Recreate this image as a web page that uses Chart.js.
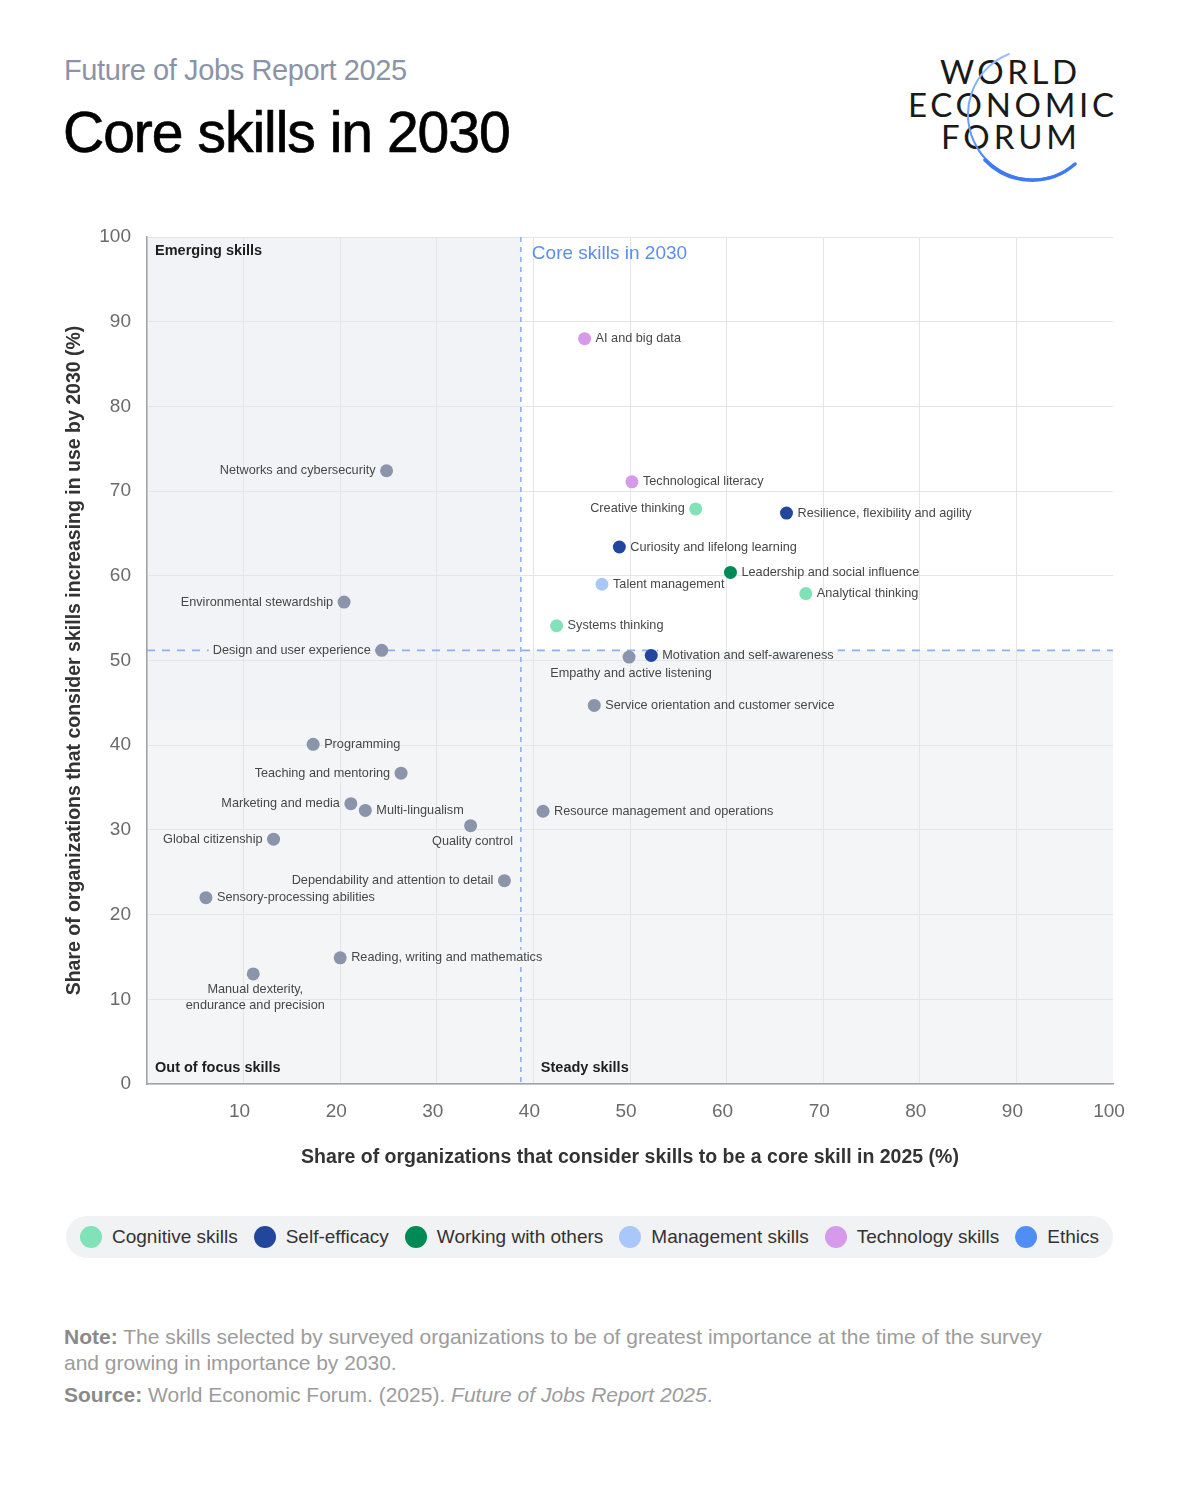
<!DOCTYPE html>
<html>
<head>
<meta charset="utf-8">
<script src="https://cdn.jsdelivr.net/npm/chart.js@4.4.1/dist/chart.umd.min.js"></script>
<style>
  html, body { margin:0; padding:0; background:#fff; }
  body { width:1179px; height:1495px; position:relative; overflow:hidden; font-family:"Liberation Sans", Arial, sans-serif; }
  #sub { position:absolute; left:64px; top:56px; font-size:29px; line-height:29px; letter-spacing:-0.4px; color:#8b93a7; white-space:nowrap; }
  #title { position:absolute; left:63px; top:104px; font-size:57px; line-height:57px; letter-spacing:-1.0px; color:#000; white-space:nowrap; -webkit-text-stroke:0.7px #000; }
  #logo { position:absolute; left:895px; top:40px; width:240px; height:160px; }
  #chartWrap { position:absolute; left:0; top:200px; width:1179px; height:980px; }
  #legend { position:absolute; left:66px; top:1216px; width:1047px; height:42px; border-radius:21px; background:#f1f2f4;
            display:flex; align-items:center; justify-content:center; gap:16px; }
  .li { display:flex; align-items:center; font-size:19px; color:#333; white-space:nowrap; }
  .dot { width:22px; height:22px; border-radius:50%; margin-right:10px; }
  #notes { position:absolute; left:64px; top:1324px; width:1000px; font-size:21px; line-height:26px; color:#9c9c9c; }
  #notes b { color:#8a8a8a; font-weight:bold; }
  #notes .src { margin-top:6px; }
</style>
</head>
<body>
<div id="sub">Future of Jobs Report 2025</div>
<div id="title">Core skills in 2030</div>
<svg id="logo" viewBox="895 40 240 160" xmlns="http://www.w3.org/2000/svg">
  <defs>
    <linearGradient id="arcg" x1="0" y1="0" x2="0" y2="1">
      <stop offset="0" stop-color="#9cc0f7"/>
      <stop offset="0.6" stop-color="#6a9af2"/>
      <stop offset="1" stop-color="#3d78ee"/>
    </linearGradient>
  </defs>
  <g font-family="Lato, 'DejaVu Sans', sans-serif" font-size="33" fill="#1a1a1a">
    <text x="940" y="84" textLength="137" lengthAdjust="spacing">WORLD</text>
    <text x="908" y="117" textLength="206" lengthAdjust="spacing">ECONOMIC</text>
    <text x="941" y="149" textLength="136" lengthAdjust="spacing">FORUM</text>
  </g>
  <path d="M 1009 54 A 65 65 0 1 0 1075 164" fill="none" stroke="url(#arcg)" stroke-width="2" stroke-linecap="round"/>
  <path d="M 985 160 A 65 65 0 0 0 1075 164" fill="none" stroke="#3f7bef" stroke-width="3.5" stroke-linecap="round"/>
</svg>

<div id="chartWrap"><canvas id="c" width="1179" height="980"></canvas></div>

<div id="legend"></div>

<div id="notes">
  <div><b>Note:</b> The skills selected by surveyed organizations to be of greatest importance at the time of the survey and growing in importance by 2030.</div>
  <div class="src"><b>Source:</b> World Economic Forum. (2025). <i>Future of Jobs Report 2025</i>.</div>
</div>

<script>
// ---------------- DATA ----------------
const skills = [
  "AI and big data",
  "Technological literacy",
  "Creative thinking",
  "Resilience, flexibility and agility",
  "Curiosity and lifelong learning",
  "Leadership and social influence",
  "Talent management",
  "Analytical thinking",
  "Systems thinking",
  "Empathy and active listening",
  "Motivation and self-awareness",
  "Service orientation and customer service",
  "Resource management and operations",
  "Networks and cybersecurity",
  "Environmental stewardship",
  "Design and user experience",
  "Programming",
  "Teaching and mentoring",
  "Marketing and media",
  "Multi-lingualism",
  "Quality control",
  "Global citizenship",
  "Dependability and attention to detail",
  "Sensory-processing abilities",
  "Reading, writing and mathematics",
  "Manual dexterity, endurance and precision"
];
// Share of organizations that consider the skill a core skill in 2025 (%)
const coreIn2025 = [45.3, 50.2, 56.8, 66.2, 48.9, 60.4, 47.1, 68.2, 42.4, 49.9, 52.2, 46.3, 41.0,
                    24.8, 20.4, 24.3, 17.2, 26.3, 21.1, 22.6, 33.5, 13.1, 37.0, 6.1, 20.0, 11.0];
// Share of organizations that consider the skill increasing in use by 2030 (%)
const increasingBy2030 = [88.0, 71.1, 67.9, 67.4, 63.4, 60.4, 59.0, 57.9, 54.1, 50.4, 50.6, 44.7, 32.2,
                          72.4, 56.9, 51.2, 40.1, 36.7, 33.1, 32.3, 30.5, 28.9, 24.0, 22.0, 14.9, 13.0];
const skillGroup = [
  "Technology skills", "Technology skills", "Cognitive skills", "Self-efficacy", "Self-efficacy",
  "Working with others", "Management skills", "Cognitive skills", "Cognitive skills", "Other",
  "Self-efficacy", "Other", "Other", "Other", "Other", "Other", "Other", "Other", "Other", "Other",
  "Other", "Other", "Other", "Other", "Other", "Other"
];
const legendGroups = ["Cognitive skills", "Self-efficacy", "Working with others", "Management skills", "Technology skills", "Ethics"];
const coreThreshold2025 = 38.7;
const growthThreshold2030 = 51.2;
const quadrantNames = ["Emerging skills", "Core skills in 2030", "Out of focus skills", "Steady skills"];
const xTitle = "Share of organizations that consider skills to be a core skill in 2025 (%)";
const yTitle = "Share of organizations that consider skills increasing in use by 2030 (%)";

// ---------------- STYLE ----------------
const groupColors = {
  "Cognitive skills": "#80e2b8",
  "Self-efficacy": "#22469b",
  "Working with others": "#008a55",
  "Management skills": "#a9c7f9",
  "Technology skills": "#d69aeb",
  "Ethics": "#4f8ef6",
  "Other": "#8a94aa"
};
const labelSide = {
  "Creative thinking": "left",
  "Networks and cybersecurity": "left",
  "Environmental stewardship": "left",
  "Design and user experience": "left",
  "Teaching and mentoring": "left",
  "Marketing and media": "left",
  "Global citizenship": "left",
  "Dependability and attention to detail": "left",
  "Empathy and active listening": "below",
  "Quality control": "below",
  "Manual dexterity, endurance and precision": "below"
};
const labelLines = {
  "Manual dexterity, endurance and precision": ["Manual dexterity,", "endurance and precision"]
};

// ---------------- BUILD ----------------
const allGroups = legendGroups.concat(["Other"]);
const datasets = allGroups.map(g => ({
  label: g,
  data: skills.map((s, i) => ({ x: coreIn2025[i], y: increasingBy2030[i], name: s, g: skillGroup[i] }))
              .filter(p => p.g === g),
  backgroundColor: groupColors[g],
  borderWidth: 0,
  pointRadius: 6.5,
  pointHoverRadius: 6.5
}));

// legend (HTML)
const legendEl = document.getElementById('legend');
legendGroups.forEach(g => {
  const d = document.createElement('div');
  d.className = 'li';
  d.innerHTML = '<span class="dot" style="background:' + groupColors[g] + '"></span>' + g;
  legendEl.appendChild(d);
});

const FONT = "'Liberation Sans', Arial, sans-serif";
const LABEL_FONT = '12.7px ' + FONT;

// compute label text items (position + box) from the chart's point elements
function labelItems(chart) {
  const { ctx } = chart;
  const items = [];
  ctx.save();
  ctx.font = LABEL_FONT;
  chart.data.datasets.forEach((ds, di) => {
    const meta = chart.getDatasetMeta(di);
    meta.data.forEach((el, i) => {
      const name = ds.data[i].name;
      const side = labelSide[name] || 'right';
      const px = el.x, py = el.y;
      if (side === 'right' || side === 'left') {
        const w = ctx.measureText(name).width;
        const tx = side === 'right' ? px + 11 : px - 11;
        const x0 = side === 'right' ? tx : tx - w;
        items.push({ text: name, x: tx, y: py, align: side === 'right' ? 'left' : 'right',
                     box: [x0 - 4, py - 8, w + 8, 16] });
      } else {
        const lines = labelLines[name] || [name];
        lines.forEach((ln, k) => {
          const w = ctx.measureText(ln).width;
          const cy = py + 16 + k * 16;
          items.push({ text: ln, x: px + 2, y: cy, align: 'center', box: [px + 2 - w / 2 - 4, cy - 8, w + 8, 16] });
        });
      }
    });
  });
  ctx.restore();
  return items;
}

const bgPlugin = {
  id: 'quadBg',
  beforeDraw(chart) {
    const { ctx, chartArea: a, scales: { x, y } } = chart;
    const vx = x.getPixelForValue(coreThreshold2025);
    const hy = y.getPixelForValue(growthThreshold2030);
    ctx.save();
    ctx.fillStyle = '#f4f5f7';
    ctx.fillRect(a.left, a.top, a.right - a.left, a.bottom - a.top);
    ctx.fillStyle = '#f2f3f6';
    const band = y.getPixelForValue(43);
    ctx.fillRect(a.left, a.top, vx - a.left, band - a.top);
    ctx.fillStyle = '#ffffff';
    ctx.fillRect(vx, a.top, a.right - vx, hy - a.top);
    ctx.restore();
  },
  beforeDatasetsDraw(chart) {
    const { ctx, chartArea: a, scales: { x, y } } = chart;
    const vx = x.getPixelForValue(coreThreshold2025);
    const hy = y.getPixelForValue(growthThreshold2030);
    const items = labelItems(chart);
    ctx.save();
    // clip away label boxes so the dashed lines break around the texts
    ctx.beginPath();
    ctx.rect(a.left - 2, a.top - 2, a.right - a.left + 4, a.bottom - a.top + 4);
    items.forEach(it => ctx.rect(it.box[0], it.box[1], it.box[2], it.box[3]));
    ctx.clip('evenodd');
    ctx.strokeStyle = '#8db0ef';
    ctx.lineWidth = 1.6;
    ctx.setLineDash([8, 7]);
    ctx.beginPath(); ctx.moveTo(a.left, hy); ctx.lineTo(a.right, hy); ctx.stroke();
    ctx.setLineDash([5, 5]);
    ctx.beginPath(); ctx.moveTo(vx, a.top); ctx.lineTo(vx, a.bottom); ctx.stroke();
    ctx.restore();
    // quadrant labels
    ctx.save();
    ctx.textBaseline = 'middle';
    ctx.fillStyle = '#1e1e1e';
    ctx.font = 'bold 14.5px ' + FONT;
    ctx.textAlign = 'left';
    ctx.fillText(quadrantNames[0], a.left + 8, a.top + 14);
    ctx.fillText(quadrantNames[2], a.left + 8, a.bottom - 16);
    ctx.fillText(quadrantNames[3], vx + 20, a.bottom - 16);
    ctx.fillStyle = '#5a8ef0';
    ctx.font = '19px ' + FONT;
    ctx.fillText(quadrantNames[1], vx + 11, a.top + 17);
    ctx.restore();
  },
  afterDatasetsDraw(chart) {
    const { ctx } = chart;
    const items = labelItems(chart);
    ctx.save();
    ctx.font = LABEL_FONT;
    ctx.fillStyle = '#474747';
    ctx.textBaseline = 'middle';
    items.forEach(it => { ctx.textAlign = it.align; ctx.fillText(it.text, it.x, it.y); });
    ctx.restore();
  }
};

new Chart(document.getElementById('c'), {
  type: 'scatter',
  data: { datasets },
  options: {
    responsive: false,
    animation: false,
    events: [],
    layout: { padding: { top: 37, right: 66, left: 0, bottom: 0 } },
    plugins: { legend: { display: false }, tooltip: { enabled: false } },
    scales: {
      x: {
        type: 'linear', min: 0, max: 100,
        ticks: { stepSize: 10, padding: 16, labelOffset: -4, color: '#6a6a6a', font: { size: 19, family: FONT },
                 callback: v => v === 0 ? '' : v },
        grid: { color: ctx => (ctx.tick && ctx.tick.value === 100) ? 'rgba(0,0,0,0)' : '#e3e5e9', lineWidth: 1, drawTicks: false },
        border: { color: '#a3a3a3', width: 1.5 },
        title: { display: true, text: xTitle, color: '#333', font: { size: 19.5, weight: 'bold', family: FONT }, padding: { top: 0, bottom: 11 } },
        afterFit: s => { s.height = 96; }
      },
      y: {
        type: 'linear', min: 0, max: 100,
        ticks: { stepSize: 10, padding: 16, color: '#6a6a6a', font: { size: 19, family: FONT } },
        grid: { color: '#e3e5e9', lineWidth: 1, drawTicks: false },
        border: { color: '#a3a3a3', width: 1.5 },
        title: { display: true, text: yTitle, color: '#333', font: { size: 19.5, weight: 'bold', family: FONT }, padding: { top: 63, bottom: 0 } },
        afterFit: s => { s.width = 147; }
      }
    }
  },
  plugins: [bgPlugin]
});
</script>
</body>
</html>
